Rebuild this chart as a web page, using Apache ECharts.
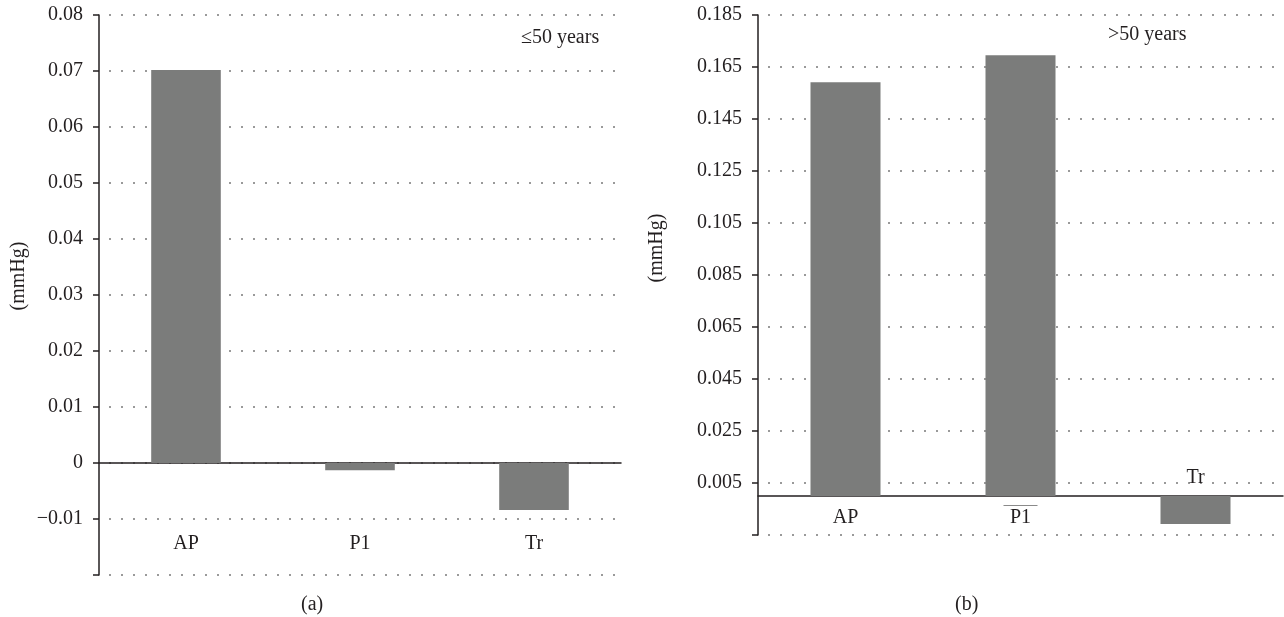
<!DOCTYPE html>
<html>
<head>
<meta charset="utf-8">
<script src="https://cdn.jsdelivr.net/npm/echarts@6/dist/echarts.min.js"></script>
<style>
  html, body { margin: 0; padding: 0; background: #fff; }
  #chart { width: 1284px; height: 617px; }
</style>
</head>
<body>
<div id="chart"></div>
<script>
// ---- data ----
const categories = ['AP', 'P1', 'Tr'];
const valuesYoung = [0.0702, -0.0013, -0.0084];   // ≤50 years
const valuesOld = [0.1591, 0.1695, -0.0108];      // >50 years
const leftTickLabels = ['', '\u22120.01', '0', '0.01', '0.02', '0.03', '0.04', '0.05', '0.06', '0.07', '0.08'];
const rightTickLabels = ['', '0.005', '0.025', '0.045', '0.065', '0.085', '0.105', '0.125', '0.145', '0.165', '0.185'];
const overlined = ['P1'];
const panelTags = ['\u226450 years', '>50 years'];
const panelLetters = ['(a)', '(b)'];
const axisName = '(mmHg)';

const FONT = "'Liberation Serif', 'DejaVu Serif', serif";
const FS = 20;
const INK = '#231f20';
const BAR = '#7b7c7b';

const chart = echarts.init(document.getElementById('chart'), null, { renderer: 'canvas' });

function yAxisCfg(gridIndex, min, max, interval, labels, nameGap, namePad) {
  return {
    type: 'value', gridIndex, min, max, interval,
    name: axisName, nameLocation: 'middle', nameGap, nameRotate: 90,
    nameTextStyle: { fontFamily: FONT, fontSize: FS, color: INK, padding: namePad },
    axisLine: { show: true, lineStyle: { color: INK, width: 1.5 } },
    axisTick: { show: true, length: 6, lineStyle: { color: INK, width: 1.5 } },
    axisLabel: {
      margin: 16, fontFamily: FONT, fontSize: FS, color: INK,
      formatter: (v, i) => labels[i]
    },
    splitLine: { show: true, lineStyle: { color: '#9a9a9a', width: 2, type: [2, 10], dashOffset: 2 } }
  };
}

const option = {
  backgroundColor: '#ffffff',
  animation: false,
  grid: [
    { left: 99, top: 15, width: 522, height: 560 },
    { left: 758, top: 15, width: 525, height: 520 }
  ],
  xAxis: [
    {
      type: 'category', gridIndex: 0, data: categories,
      axisLine: { onZero: true, lineStyle: { color: INK, width: 1.5 } },
      axisTick: { show: false },
      axisLabel: { inside: true, margin: 21, fontFamily: FONT, fontSize: FS, color: INK }
    },
    {
      type: 'category', gridIndex: 1, data: categories,
      axisLine: { onZero: true, lineStyle: { color: INK, width: 1.5 } },
      axisTick: { show: false },
      axisLabel: {
        inside: true, margin: 5, fontFamily: FONT, fontSize: FS, color: INK,
        formatter: (v) => {
          const idx = categories.indexOf(v);
          if (valuesOld[idx] < 0) return '{t|' + v + '}\n{gap|}';
          return (overlined.includes(v) ? '{ol|}' : '{nol|}') + '\n{t|' + v + '}';
        },
        rich: {
          t: { fontFamily: FONT, fontSize: FS, color: INK, lineHeight: 24 },
          ol: { width: 34, height: 1, backgroundColor: '#8a8a8a' },
          nol: { width: 34, height: 1 },
          gap: { height: 40 }
        }
      }
    }
  ],
  yAxis: [
    yAxisCfg(0, -0.02, 0.08, 0.01, leftTickLabels, 70, [0, 0, 0, 38]),
    yAxisCfg(1, -0.015, 0.185, 0.02, rightTickLabels, 91, [0, 0, 0, 54])
  ],
  series: [
    { type: 'bar', xAxisIndex: 0, yAxisIndex: 0, data: valuesYoung, barWidth: '40%', itemStyle: { color: BAR } },
    { type: 'bar', xAxisIndex: 1, yAxisIndex: 1, data: valuesOld, barWidth: '40%', itemStyle: { color: BAR } }
  ],
  graphic: [
    { type: 'text', left: 521, top: 28, style: { text: panelTags[0], font: FS + 'px ' + FONT, fill: INK } },
    { type: 'text', left: 1108, top: 25, style: { text: panelTags[1], font: FS + 'px ' + FONT, fill: INK } },
    { type: 'text', left: 301, top: 595, style: { text: panelLetters[0], font: FS + 'px ' + FONT, fill: INK } },
    { type: 'text', left: 955, top: 595, style: { text: panelLetters[1], font: FS + 'px ' + FONT, fill: INK } }
  ]
};
chart.setOption(option);
</script>
</body>
</html>
